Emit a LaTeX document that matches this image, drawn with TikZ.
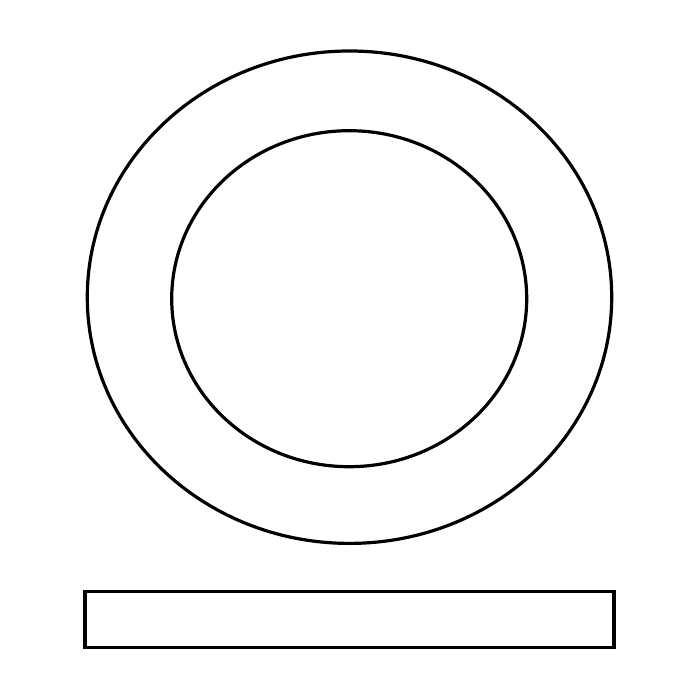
\documentclass[tikz,border=0pt]{standalone}
\begin{document}
\begin{tikzpicture}[x=1pt,y=-1pt,line width=3.2pt,
  shapeline/.style={draw=black,line width=3.2pt}]
\useasboundingbox[fill=white] (0,0) rectangle (700,700);
\draw[shapeline] (349.5,297.2) ellipse [x radius=262.2, y radius=246.2];
\draw[shapeline] (349.2,298.7) ellipse [x radius=177.5, y radius=168];
\draw[shapeline] (85,591.7) rectangle (614,647.7);
\end{tikzpicture}
\end{document}
